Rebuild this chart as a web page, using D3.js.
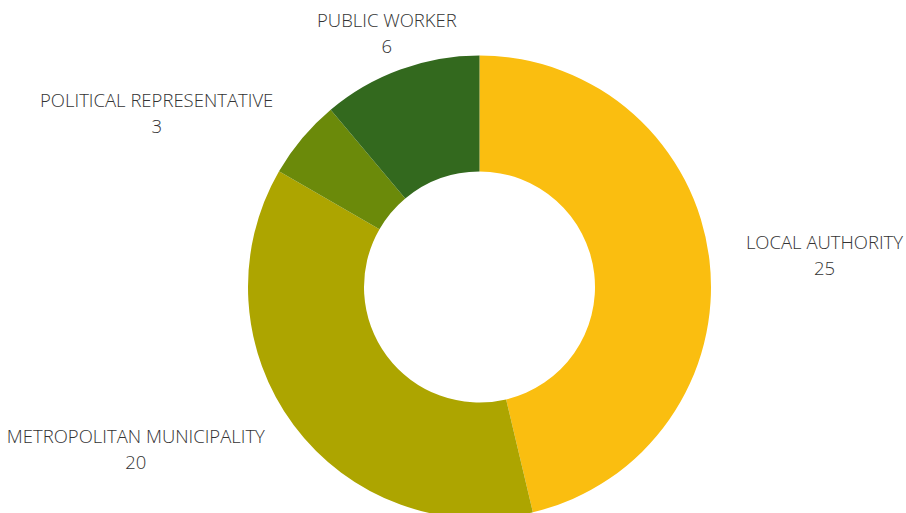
<!DOCTYPE html>
<html>
<head>
<meta charset="utf-8">
<script src="https://cdn.jsdelivr.net/npm/d3@7"></script>
<style>
  body { margin: 0; background: #fff; }
  text { font-family: "Open Sans", sans-serif; font-weight: 300; }
</style>
</head>
<body>
<div id="donut"></div>
<script>
var categories = ["LOCAL AUTHORITY", "METROPOLITAN MUNICIPALITY", "POLITICAL REPRESENTATIVE", "PUBLIC WORKER"];
var values = [25, 20, 3, 6];
var colors = ["#FABE10", "#ADA500", "#6B8A0A", "#33691E"];

var width = 906, height = 513;
var cx = 479.5, cy = 287;
var outerR = 231.5, innerR = 115.5;

// label nudges from the arc centroid direction (layout only)
var labelNudge = [[47, -3], [-103, -23], [-93, 13], [10, 22]];

var svg = d3.select("#donut")
  .append("svg")
  .attr("width", width)
  .attr("height", height)
  .append("g")
  .attr("transform", "translate(" + cx + "," + cy + ")");

var data = categories.map(function (c, i) {
  return { name: c, value: values[i], color: colors[i], nudge: labelNudge[i] };
});

var pie = d3.pie()
  .sort(null)
  .value(d => d.value);

var arc = d3.arc()
  .innerRadius(innerR)
  .outerRadius(outerR);

var labelArc = d3.arc()
  .innerRadius(300)
  .outerRadius(300);

var arcs = pie(data);

svg.selectAll("path")
  .data(arcs)
  .enter()
  .append("path")
  .attr("d", arc)
  .attr("fill", d => d.data.color);

var labels = svg.selectAll(".lbl")
  .data(arcs)
  .enter()
  .append("text")
  .attr("class", "lbl")
  .attr("text-anchor", "middle")
  .attr("font-size", 18.5)
  .attr("fill", "#333333")
  .attr("transform", function (d) {
    var c = labelArc.centroid(d);
    return "translate(" + (c[0] + d.data.nudge[0]) + "," + (c[1] + d.data.nudge[1]) + ")";
  });

labels.append("tspan")
  .attr("x", 0)
  .attr("y", 0)
  .text(d => d.data.name);

labels.append("tspan")
  .attr("x", 0)
  .attr("y", 26)
  .text(d => d.data.value);
</script>
</body>
</html>
